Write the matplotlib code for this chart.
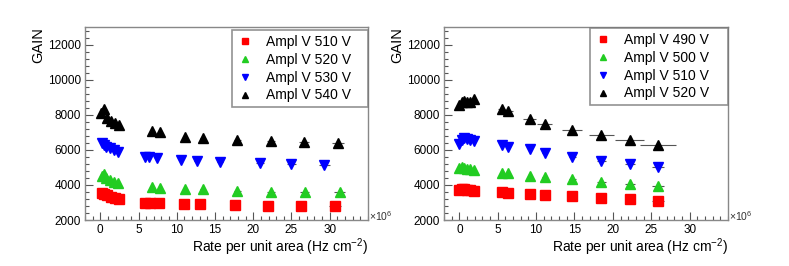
import matplotlib.pyplot as plt
from matplotlib.ticker import MultipleLocator, FixedLocator

plt.rcParams['font.family'] = ['Liberation Sans', 'DejaVu Sans']
plt.rcParams['mathtext.fontset'] = 'custom'
plt.rcParams['mathtext.rm'] = 'Liberation Sans'
plt.rcParams['mathtext.it'] = 'Liberation Sans:italic'

# left panel: rate (x1e6 Hz/cm2) and gain per amplification voltage
left_labels = ['Ampl V 510 V', 'Ampl V 520 V', 'Ampl V 530 V', 'Ampl V 540 V']

l510_x = [0.2, 0.5, 0.9, 1.4, 1.9, 2.4, 5.8, 6.5, 7.7, 11.0, 13.1, 17.6, 21.9, 26.3, 30.7]
l510_y = [3550, 3480, 3400, 3320, 3260, 3200, 2985, 2985, 2950, 2910, 2910, 2870, 2815, 2800, 2800]
l510_xe = [0.05, 0.05, 0.05, 0.05, 0.05, 0.05, 0.15, 0.15, 0.2, 0.25, 0.3, 0.45, 0.55, 0.65, 0.75]

l520_x = [0.2, 0.45, 0.8, 1.3, 1.8, 2.3, 6.7, 7.8, 11.1, 13.4, 17.9, 22.3, 26.7, 31.3]
l520_y = [4500, 4650, 4400, 4300, 4180, 4100, 3860, 3800, 3750, 3765, 3670, 3610, 3610, 3590]
l520_xe = [0.05, 0.05, 0.05, 0.05, 0.05, 0.05, 0.15, 0.2, 0.25, 0.3, 0.45, 0.55, 0.65, 0.75]

l530_x = [0.2, 0.45, 0.8, 1.3, 1.8, 2.3, 5.8, 6.4, 7.4, 10.5, 12.6, 15.7, 20.9, 25.0, 29.3]
l530_y = [6400, 6280, 6180, 6080, 5990, 5900, 5570, 5570, 5510, 5414, 5340, 5283, 5226, 5186, 5146]
l530_xe = [0.05, 0.05, 0.05, 0.05, 0.05, 0.05, 0.15, 0.15, 0.2, 0.25, 0.3, 0.4, 0.5, 0.6, 0.7]

l540_x = [0.15, 0.45, 0.9, 1.4, 1.9, 2.4, 6.75, 7.8, 11.1, 13.4, 17.9, 22.3, 26.6, 31.1]
l540_y = [8100, 8350, 7800, 7650, 7550, 7430, 7050, 7000, 6750, 6690, 6550, 6500, 6440, 6380]
l540_xe = [0.05, 0.05, 0.05, 0.05, 0.05, 0.05, 0.15, 0.2, 0.25, 0.3, 0.45, 0.55, 0.65, 0.75]

# right panel
right_labels = ['Ampl V 490 V', 'Ampl V 500 V', 'Ampl V 510 V', 'Ampl V 520 V']
r_x = [0.0, 0.3, 0.6, 1.0, 1.4, 1.9, 5.5, 6.4, 9.2, 11.1, 14.7, 18.5, 22.2, 25.9]
r490_y = [3700, 3750, 3750, 3720, 3700, 3680, 3575, 3520, 3460, 3420, 3365, 3270, 3180, 3100]
r500_y = [4950, 5000, 4980, 4930, 4900, 4870, 4690, 4660, 4520, 4465, 4315, 4160, 4050, 3935]
r510_y = [6350, 6550, 6650, 6600, 6550, 6530, 6268, 6170, 6020, 5795, 5567, 5375, 5186, 5035]
r520_y = [8550, 8700, 8800, 8750, 8750, 8900, 8300, 8200, 7730, 7500, 7120, 6840, 6550, 6270]
r_small_xe = [0.05, 0.05, 0.05, 0.05, 0.05, 0.05, 0.15, 0.2, 0.3, 0.35, 0.45, 0.55, 0.65, 0.75]
r520_xe = [0.05, 0.05, 0.05, 0.05, 0.05, 0.05, 0.5, 0.6, 0.85, 1.0, 1.3, 1.6, 1.9, 2.3]

x_ticks = [0, 5, 10, 15, 20, 25, 30]
colors = ['#ff0000', '#22cc22', '#0000ff', '#000000']
markers = ['s', '^', 'v', '^']


def style_axes(ax):
    ax.set_xlim(-2, 35)
    ax.set_ylim(2000, 13000)
    ax.xaxis.set_major_locator(FixedLocator(x_ticks))
    ax.xaxis.set_minor_locator(MultipleLocator(1))
    ax.yaxis.set_major_locator(MultipleLocator(2000))
    ax.yaxis.set_minor_locator(MultipleLocator(400))
    ax.tick_params(which='both', direction='in', top=False, right=False,
                   labelsize=8.5, width=0.8, color='#555555', pad=3)
    ax.tick_params(which='major', length=6)
    ax.tick_params(which='minor', length=3)
    for sp in ax.spines.values():
        sp.set_color('#888888')
        sp.set_linewidth(1.0)
    ax.set_xlabel('Rate per unit area (Hz cm$^{-2}$)', loc='right', fontsize=10)
    ax.xaxis.set_label_coords(1.0, -0.085)
    ax.set_ylabel('GAIN', loc='top', fontsize=10.5)
    ax.yaxis.set_label_coords(-0.14, 1.0)
    ax.text(1.005, 0.02, '×10$^{6}$', transform=ax.transAxes, fontsize=7.5,
            color='#333333', ha='left', va='center')


fig = plt.figure(figsize=(7.89, 2.66), dpi=100)
ax1 = fig.add_axes([0.1077, 0.1729, 0.3587, 0.7256])
ax2 = fig.add_axes([0.5627, 0.1729, 0.36, 0.7256])

left_sets = [(l510_x, l510_y, l510_xe), (l520_x, l520_y, l520_xe),
             (l530_x, l530_y, l530_xe), (l540_x, l540_y, l540_xe)]
for (x, y, xe), c, m, lab in zip(left_sets, colors, markers, left_labels):
    ax1.errorbar(x, y, xerr=xe, fmt=m, color=c, ms=6.5, mec=c, ecolor='#555555',
                 elinewidth=0.8, capsize=0, label=lab, zorder=3)

right_sets = [(r490_y, r_small_xe), (r500_y, r_small_xe), (r510_y, r_small_xe), (r520_y, r520_xe)]
for (y, xe), c, m, lab in zip(right_sets, colors, markers, right_labels):
    ax2.errorbar(r_x, y, xerr=xe, fmt=m, color=c, ms=6.5, mec=c, ecolor='#555555',
                 elinewidth=0.8, capsize=0, label=lab, zorder=3)

for ax, box in [(ax1, (0.519, 0.62, 0.481, 0.365)), (ax2, (0.514, 0.632, 0.486, 0.363))]:
    style_axes(ax)
    h, l = ax.get_legend_handles_labels()
    h = [hh[0] for hh in h]
    leg = ax.legend(h, l, loc='upper left', bbox_to_anchor=box, mode='expand', fontsize=10,
                    frameon=True, fancybox=False, borderpad=0.35, labelspacing=0.28,
                    handlelength=1.2, handletextpad=0.9, borderaxespad=0)
    leg.get_frame().set_edgecolor('#777777')
    leg.get_frame().set_linewidth(1.2)
    for hh in leg.legend_handles:
        hh.set_markersize(5)

fig.savefig('out.png', dpi=100)
